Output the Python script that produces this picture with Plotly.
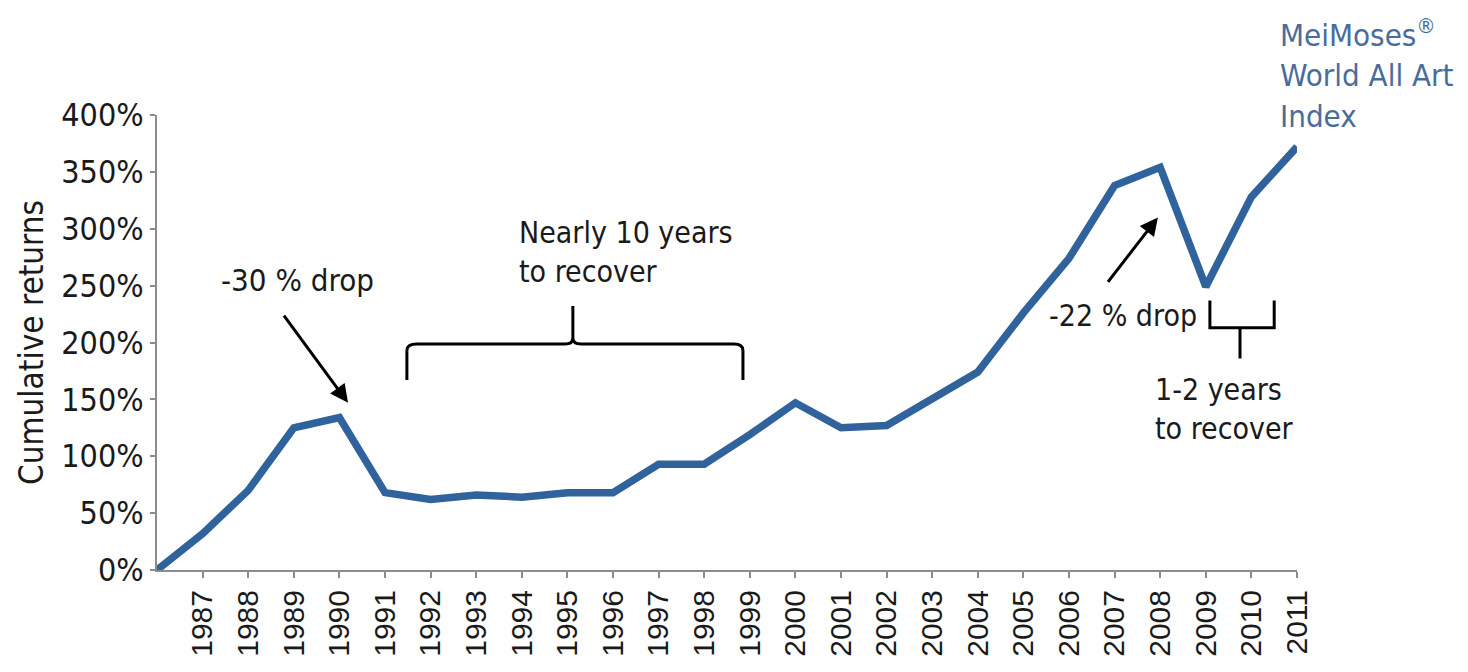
import plotly.graph_objects as go

years = list(range(1986, 2012))
returns = [0, 32, 70, 125, 134, 68, 62, 66, 64, 68, 68, 93, 93, 119, 147,
           125, 127, 150, 174, 226, 274, 338, 354, 249, 328, 372]
tick_years = list(range(1987, 2012))
y_ticks = [0, 50, 100, 150, 200, 250, 300, 350, 400]
y_ticktext = [f"{v}%" for v in y_ticks]

LINE = "#30629C"
TXT = "#1a1a1a"
FONT = "Liberation Sans Narrow, DejaVu Sans Condensed, Arial Narrow, sans-serif"

fig = go.Figure()
fig.add_trace(go.Scatter(x=years, y=returns, mode="lines",
                         line=dict(color=LINE, width=7.5), cliponaxis=False,
                         showlegend=False))

ann = []
ann.append(dict(x=1989.09, y=255, xref="x", yref="y", text="-30 % drop",
                showarrow=False, font=dict(size=31, color=TXT, family=FONT)))
ann.append(dict(x=1990.19, y=147, ax=1988.76, ay=225, xref="x", yref="y",
                axref="x", ayref="y", text="", showarrow=True, arrowhead=2,
                arrowsize=1.2, arrowwidth=3, arrowcolor="#000"))
ann.append(dict(x=1993.9, y=280, xref="x", yref="y",
                text="Nearly 10 years<br>to recover", align="left",
                xanchor="left", yanchor="middle", showarrow=False,
                font=dict(size=30, color=TXT, family=FONT)))
ann.append(dict(x=2007.18, y=224, xref="x", yref="y", text="-22 % drop",
                showarrow=False, font=dict(size=30, color=TXT, family=FONT)))
ann.append(dict(x=2007.95, y=310, ax=2006.83, ay=252, xref="x", yref="y",
                axref="x", ayref="y", text="", showarrow=True, arrowhead=2,
                arrowsize=1.2, arrowwidth=3, arrowcolor="#000"))
ann.append(dict(x=2007.84, y=141.5, xref="x", yref="y",
                text="1-2 years<br>to recover", align="left",
                xanchor="left", yanchor="middle", showarrow=False,
                font=dict(size=30, color=TXT, family=FONT)))
ann.append(dict(x=2010.58, y=1.092, xref="x", yref="paper",
                text="MeiMoses<sup>®</sup><br>World All Art<br>Index", align="left",
                xanchor="left", yanchor="middle", showarrow=False,
                font=dict(size=31, color="#4A6C9B", family=FONT)))

shapes = [
    dict(type="path", xref="x", yref="y",
         path="M 1991.48,167 L 1991.48,193 Q 1991.48,198.7 1991.7,198.7 L 1994.95,198.7 "
              "Q 1995.12,198.7 1995.12,204 L 1995.12,232 L 1995.12,204 Q 1995.12,198.7 1995.3,198.7 "
              "L 1998.65,198.7 Q 1998.85,198.7 1998.85,193 L 1998.85,167",
         line=dict(color="#000", width=3)),
    dict(type="path", xref="x", yref="y",
         path="M 2009.09,237 L 2009.09,213 L 2010.5,213 L 2010.5,237 "
              "M 2009.75,213 L 2009.75,186",
         line=dict(color="#000", width=3)),
]

fig.update_layout(
    width=1468, height=672,
    margin=dict(l=149, r=179, t=107, b=110, autoexpand=False),
    paper_bgcolor="white", plot_bgcolor="white",
    annotations=ann, shapes=shapes,
    xaxis=dict(range=[1986, 2011], tickvals=tick_years,
               ticktext=[str(y) for y in tick_years], tickangle=-90,
               showgrid=False, zeroline=False, showline=True,
               linecolor="#8c8c8c", linewidth=2, ticks="outside",
               ticklen=6, tickcolor="#8c8c8c", tickwidth=2, automargin=False,
               tickfont=dict(family="Liberation Sans, Arial, sans-serif", size=30, color=TXT)),
    yaxis=dict(range=[0, 400], tickvals=y_ticks, ticktext=y_ticktext,
               showgrid=False, zeroline=False, showline=True,
               linecolor="#8c8c8c", linewidth=2, ticks="outside",
               ticklen=5, tickcolor="#8c8c8c", tickwidth=2, automargin=False,
               tickfont=dict(family=FONT, size=32, color=TXT),
               title=dict(text="Cumulative returns", standoff=8,
                          font=dict(family=FONT, size=33, color=TXT))),
)

fig.write_html("out.html")
